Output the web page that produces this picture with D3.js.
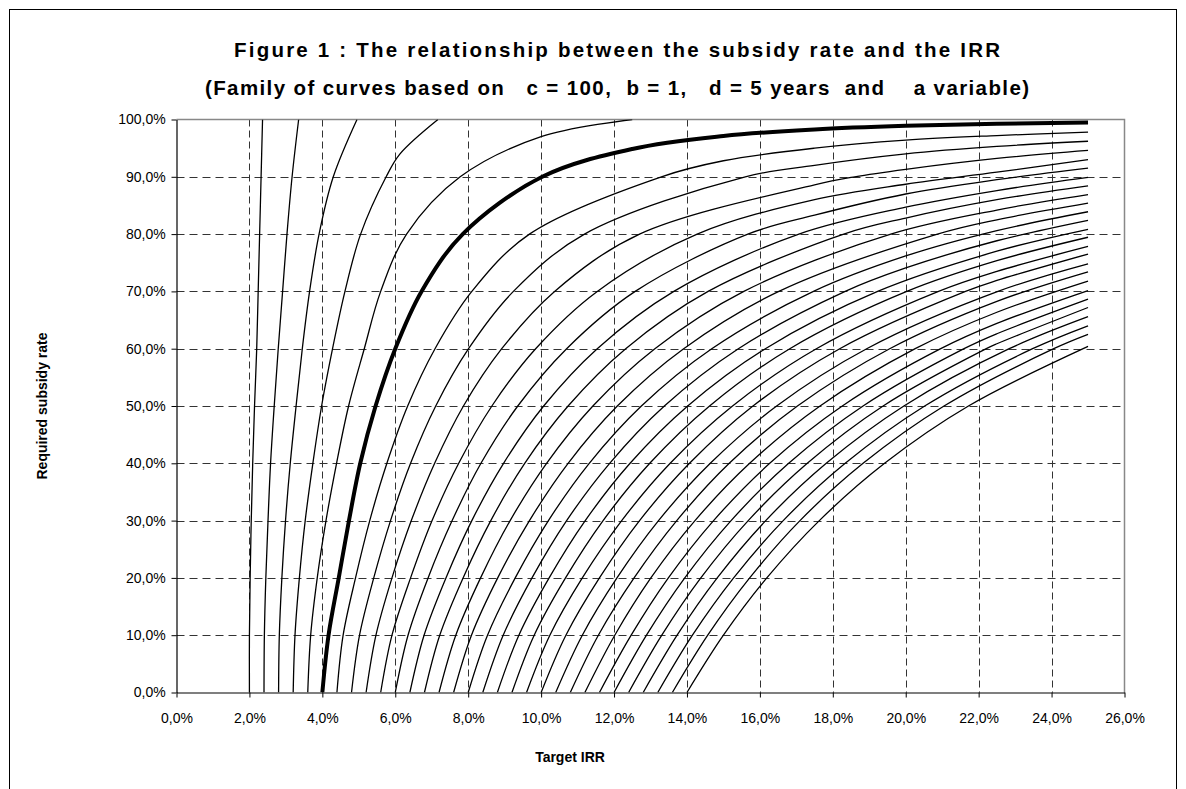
<!DOCTYPE html>
<html><head><meta charset="utf-8">
<script src="https://cdn.jsdelivr.net/npm/d3@7"></script>
<style>
body{margin:0;background:#fff}
svg{display:block}
text{font-family:"Liberation Sans", Arial, sans-serif;fill:#000}
</style>
</head><body>
<svg id="chart" width="1186" height="789"></svg>
<script>
// ---- Data ----
// Target IRR (%) where each curve starts (subsidy rate 0 %)
const intercepts = [2.0,2.4,2.8,3.2,3.6,4.0,4.4,4.8,5.2,5.6,6.0,6.4,6.8,7.2,7.6,8.0,8.4,8.8,9.2,9.6,10.0,10.4,10.8,11.2,11.6,12.0,12.4,12.8,13.2,13.6,14.0];
const thickIntercept = 4.0;
// Target IRR (%) at which each curve crosses a subsidy-rate level
const xAt10 = [2.0,2.41,2.82,3.25,3.68,4.17,4.57,5.02,5.47,5.91,6.35,6.79,7.22,7.66,8.09,8.53,8.96,9.39,9.81,10.24,10.68,11.13,11.57,12.02,12.47,12.89,13.31,13.73,14.15,14.57,15.00];
const xAt20 = [2.02,2.45,2.89,3.37,3.86,4.45,4.91,5.41,5.91,6.42,6.90,7.39,7.86,8.34,8.81,9.29,9.75,10.22,10.67,11.13,11.60,12.08,12.55,13.01,13.49,13.94,14.38,14.83,15.28,15.72,16.19];
const xAt30 = [2.05,2.51,2.99,3.53,4.10,4.73,5.30,5.87,6.44,7.01,7.56,8.10,8.62,9.15,9.68,10.20,10.70,11.21,11.70,12.21,12.70,13.22,13.72,14.22,14.73,15.21,15.68,16.16,16.64,17.10,17.63];
const xAt40 = [2.09,2.58,3.12,3.74,4.39,5.04,5.77,6.42,7.08,7.74,8.35,8.97,9.55,10.15,10.74,11.32,11.88,12.44,12.98,13.54,14.07,14.64,15.16,15.72,16.27,16.79,17.30,17.82,18.34,18.83,19.42];
const xAt50 = [2.14,2.68,3.28,3.98,4.72,5.46,6.34,7.11,7.87,8.65,9.36,10.07,10.74,11.42,12.09,12.75,13.38,14.02,14.62,15.25,15.81,16.46,17.03,17.65,18.26,18.83,19.38,19.95,20.52,21.05,21.72];
const xAt60 = [2.20,2.79,3.45,4.28,5.15,6.00,7.09,8.01,8.92,9.85,10.70,11.54,12.32,13.12,13.91,14.68,15.41,16.15,16.82,17.55,18.19,18.93,19.56,20.26,20.96,21.60,22.21,22.84,23.48,24.06,null];
const xAt70 = [2.24,2.91,3.65,4.62,5.60,6.72,8.10,9.24,10.37,11.54,12.58,13.64,14.58,15.56,16.52,17.47,18.34,19.23,20.03,20.90,21.64,22.53];
const xAt80 = [2.28,3.03,3.91,5.05,6.31,7.85,9.68,11.19,12.70,14.28,15.67,17.07,18.30,19.59,20.87];
const xAt90 = [2.32,3.17,4.30,5.75,7.78,10.03,13.30,15.60,18.60];
const xAt100 = [2.36,3.35,4.95,7.17,12.50];
// Subsidy rate (%) of each curve at given target IRR columns
const yAt6_13 = [null,null,null,94.0];
const yAt10   = [null,null,null,null,97.0];
const yAt12_5 = [null,null,null,null,null,94.86];
const yAt15   = [null,null,null,null,null,97.12,92.80];
const yAt17_5 = [null,null,null,null,null,98.26,95.00,92.00,88.60,86.00,83.30];
const yAt20   = [null,null,null,null,null,98.89,96.40,94.00,91.30,88.70,87.00,84.70,82.80,null,null,76.18,74.09];
const yAt22_5 = [null,null,null,null,null,99.26,97.20,95.30,93.20,90.80,89.50,87.60,86.00,84.20,82.50,80.60,78.84,77.01,75.36,73.49,71.91,null,68.26,66.36,64.41,62.61,60.86];
const yAt25   = [null,null,null,null,null,99.49,97.80,96.20,94.60,93.00,91.50,89.90,88.40,86.90,85.40,83.90,82.40,80.84,79.45,77.84,76.52,74.82,73.42,71.81,70.15,68.64,67.19,65.59,64.00,62.50,60.40];

const levelValues = [0,10,20,30,40,50,60,70,80,90,100];
const levelCrossings = [intercepts,xAt10,xAt20,xAt30,xAt40,xAt50,xAt60,xAt70,xAt80,xAt90,xAt100];
const columnValues = [6.13,10,12.5,15,17.5,20,22.5,25];
const columnRates = [yAt6_13,yAt10,yAt12_5,yAt15,yAt17_5,yAt20,yAt22_5,yAt25];

const xTickValues = [0,2,4,6,8,10,12,14,16,18,20,22,24,26];
const xTickLabels = ["0,0%","2,0%","4,0%","6,0%","8,0%","10,0%","12,0%","14,0%","16,0%","18,0%","20,0%","22,0%","24,0%","26,0%"];
const yTickValues = [0,10,20,30,40,50,60,70,80,90,100];
const yTickLabels = ["0,0%","10,0%","20,0%","30,0%","40,0%","50,0%","60,0%","70,0%","80,0%","90,0%","100,0%"];

const titleLine1 = "Figure 1 : The relationship between the subsidy rate and the IRR";
const titleLine2 = "(Family of curves based on   c = 100,  b = 1,   d = 5 years  and    a variable)";
const xTitle = "Target IRR";
const yTitle = "Required subsidy rate";

// ---- Build curves ----
const curves = intercepts.map((r0, k) => {
  const pts = [];
  levelValues.forEach((lv, i) => {
    const v = levelCrossings[i][k];
    if (v != null) pts.push([v, lv]);
  });
  columnValues.forEach((xc, j) => {
    const v = columnRates[j][k];
    if (v != null) pts.push([xc, v]);
  });
  pts.sort((a, b) => a[1] - b[1] || a[0] - b[0]);
  return {r0, pts};
});

// ---- Drawing ----
const svg = d3.select("#chart");
const plot = {left:176.5, right:1124.5, top:119.5, bottom:692.5};
const x = d3.scaleLinear().domain([0,26]).range([plot.left, plot.right]);
const y = d3.scaleLinear().domain([0,100]).range([plot.bottom, plot.top]);

// outer chart border
svg.append("rect").attr("x",9.5).attr("y",9.5).attr("width",1167).attr("height",820)
  .attr("fill","none").attr("stroke","#000").attr("stroke-width",1);

// titles
svg.append("text").attr("x",617).attr("y",57).attr("text-anchor","middle")
  .attr("font-size",20.5).attr("font-weight","bold")
  .attr("textLength",766).attr("lengthAdjust","spacing").text(titleLine1);
svg.append("text").attr("x",617).attr("y",95).attr("text-anchor","middle")
  .attr("font-size",20.5).attr("font-weight","bold").style("white-space","pre")
  .attr("textLength",824).attr("lengthAdjust","spacing").text(titleLine2);

// gridlines
const grid = svg.append("g");
grid.selectAll("line.h").data(yTickValues.filter(v => v > 0 && v < 100)).join("line")
  .attr("x1",plot.left).attr("x2",plot.right)
  .attr("y1",d => Math.round(y(d))+0.5).attr("y2",d => Math.round(y(d))+0.5)
  .attr("stroke","#333").attr("stroke-dasharray","8,5").attr("stroke-width",1);
grid.selectAll("line.v").data(xTickValues.filter(v => v > 0 && v < 26)).join("line")
  .attr("y1",plot.top).attr("y2",plot.bottom)
  .attr("x1",d => Math.round(x(d))+0.5).attr("x2",d => Math.round(x(d))+0.5)
  .attr("stroke","#333").attr("stroke-dasharray","7,4").attr("stroke-width",1);

// plot area border (top & right, gray)
svg.append("path").attr("d",`M${plot.left},${plot.top}H${plot.right}V${plot.bottom}`)
  .attr("fill","none").attr("stroke","#888").attr("stroke-width",1.5);

// clip
svg.append("clipPath").attr("id","clip").append("rect")
  .attr("x",plot.left).attr("y",plot.top).attr("width",plot.right-plot.left).attr("height",plot.bottom-plot.top);

const line = d3.line().x(d => x(d[0])).y(d => y(d[1])).curve(d3.curveCatmullRom.alpha(0.5));
svg.append("g").attr("clip-path","url(#clip)")
  .selectAll("path").data(curves).join("path")
  .attr("d", d => line(d.pts))
  .attr("fill","none").attr("stroke","#000")
  .attr("stroke-width", d => d.r0 === thickIntercept ? 4 : 1.3)
  .attr("stroke-linejoin","round");

// axes
const xAxis = d3.axisBottom(x).tickValues(xTickValues).tickFormat((d,i) => xTickLabels[i]).tickSize(5).tickSizeOuter(0);
const yAxis = d3.axisLeft(y).tickValues(yTickValues).tickFormat((d,i) => yTickLabels[i]).tickSize(5).tickSizeOuter(0);
const gx = svg.append("g").attr("transform",`translate(0,${plot.bottom})`).call(xAxis);
const gy = svg.append("g").attr("transform",`translate(${plot.left},0)`).call(yAxis);
[gx, gy].forEach(g => {
  g.select(".domain").attr("stroke","#000").attr("stroke-width",1.2);
  g.selectAll(".tick line").attr("stroke","#000");
  g.selectAll(".tick text").attr("font-size",14).attr("font-family","Liberation Sans, Arial, sans-serif").attr("fill","#000");
});
gx.selectAll(".tick text").attr("dy","1.6em");
gy.selectAll(".tick text").attr("dx","-0.2em");

// axis titles
svg.append("text").attr("x",570).attr("y",762).attr("text-anchor","middle")
  .attr("font-size",14).attr("font-weight","bold").text(xTitle);
svg.append("text").attr("transform","translate(47,406) rotate(-90)").attr("text-anchor","middle")
  .attr("font-size",14).attr("font-weight","bold").text(yTitle);
</script>
</body></html>
